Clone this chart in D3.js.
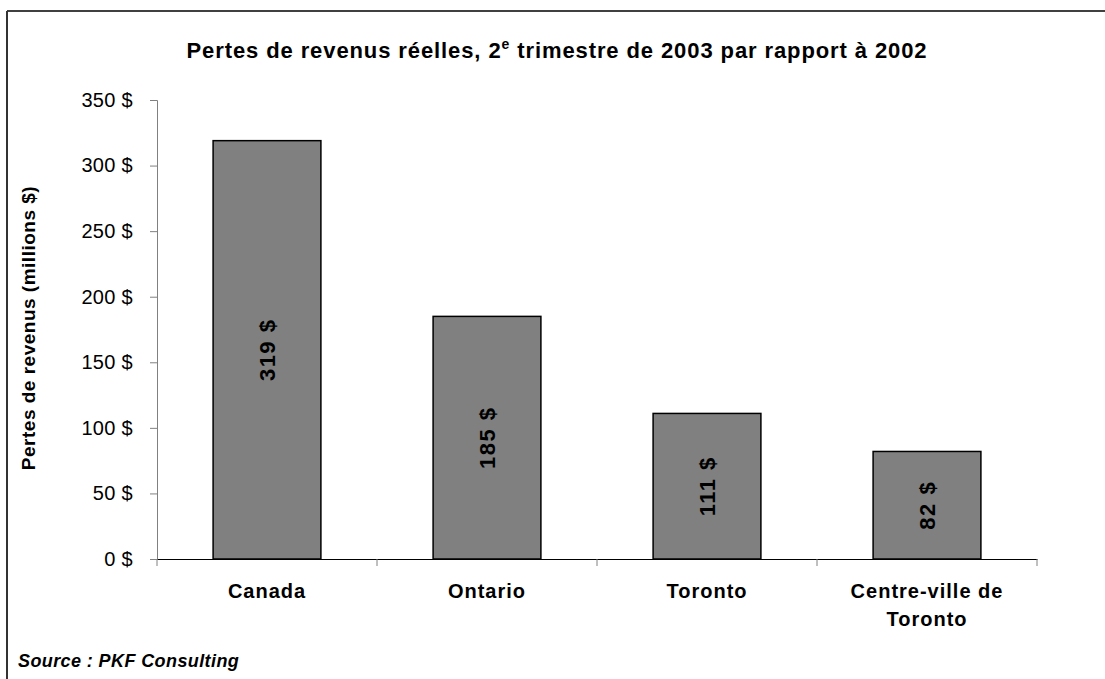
<!DOCTYPE html>
<html>
<head>
<meta charset="utf-8">
<script src="https://cdn.jsdelivr.net/npm/d3@7"></script>
<style>
  body { margin: 0; background: #fff; }
  svg text { font-family: "Liberation Sans", Arial, sans-serif; }
</style>
</head>
<body>
<svg id="chart" width="1105" height="679"></svg>
<script>
// data
let categories = [["Canada"], ["Ontario"], ["Toronto"], ["Centre-ville de", "Toronto"]];
let values = [319, 185, 111, 82];
let yTicks = [0, 50, 100, 150, 200, 250, 300, 350];

let svg = d3.select("svg#chart"),
margin = { top: 100, right: 68, bottom: 120, left: 157 },
width = svg.attr("width") - margin.left - margin.right,
height = svg.attr("height") - margin.top - margin.bottom,
g = svg.append("g").attr("transform", `translate(${margin.left},${margin.top})`);

// outer frame (only top and left edges are in the picture)
svg.append("line").attr("x1", 7).attr("x2", 1105).attr("y1", 11).attr("y2", 11)
  .attr("stroke", "#000").attr("stroke-width", 1.5);
svg.append("line").attr("x1", 7).attr("x2", 7).attr("y1", 11).attr("y2", 679)
  .attr("stroke", "#333").attr("stroke-width", 2);

var x = d3.scaleBand().domain(d3.range(values.length)).range([0, width]).paddingInner(0).paddingOuter(0);
var y = d3.scaleLinear().domain([0, 350]).range([height, 0]);

// y axis
var yAxis = d3.axisLeft(y).tickValues(yTicks).tickSize(7).tickFormat(d => d + " $");
var ya = g.append("g").call(yAxis);
ya.select(".domain").attr("stroke", "#808080");
ya.selectAll(".tick line").attr("stroke", "#808080");
ya.selectAll(".tick text").attr("font-size", 20).attr("fill", "#000").attr("x", -24)
  .attr("letter-spacing", 0.3)
  .style("font-family", "Liberation Sans, Arial, sans-serif");

// bars
var bw = x.bandwidth() * 0.49;
g.selectAll(".bar")
  .data(values)
  .enter()
  .append("rect")
  .attr("class", "bar")
  .attr("x", (d, i) => x(i) + (x.bandwidth() - bw) / 2)
  .attr("width", bw)
  .attr("y", d => y(d))
  .attr("height", d => y(0) - y(d))
  .attr("fill", "#808080")
  .attr("stroke", "#000")
  .attr("stroke-width", 1.5);

// value labels, rotated inside bars
g.selectAll(".val")
  .data(values)
  .enter()
  .append("text")
  .attr("class", "val")
  .attr("transform", (d, i) => `translate(${x(i) + x.bandwidth() / 2},${(y(d) + y(0)) / 2}) rotate(-90)`)
  .attr("text-anchor", "middle")
  .attr("dy", "0.35em")
  .attr("font-size", 22)
  .attr("font-weight", "bold")
  .attr("letter-spacing", 1.5)
  .text(d => d + " $");

// x axis
var xAxis = d3.axisBottom(x).tickSize(0).tickFormat("");
var xa = g.append("g").attr("transform", `translate(0,${height})`).call(xAxis);
xa.select(".domain").attr("stroke", "#000").attr("stroke-width", 1);
d3.range(values.length + 1).forEach(i => {
  g.append("line")
    .attr("x1", i * x.step()).attr("x2", i * x.step())
    .attr("y1", height).attr("y2", height + 7)
    .attr("stroke", "#808080");
});

// category labels
var cat = g.selectAll(".cat")
  .data(categories)
  .enter()
  .append("text")
  .attr("class", "cat")
  .attr("text-anchor", "middle")
  .attr("font-size", 20)
  .attr("font-weight", "bold")
  .attr("letter-spacing", 1)
  .attr("transform", (d, i) => `translate(${x(i) + x.bandwidth() / 2},${height + 39})`);
cat.selectAll("tspan")
  .data(d => d)
  .enter()
  .append("tspan")
  .attr("x", 0)
  .attr("dy", (d, i) => i === 0 ? 0 : 28)
  .text(d => d);

// title with superscript
var title = svg.append("text")
  .attr("x", 557).attr("y", 58)
  .attr("text-anchor", "middle")
  .attr("font-size", 22)
  .attr("font-weight", "bold")
  .attr("letter-spacing", 0.9);
title.append("tspan").text("Pertes de revenus réelles, 2");
title.append("tspan").attr("font-size", 14).attr("dy", -9).text("e");
title.append("tspan").attr("dy", 9).text(" trimestre de 2003 par rapport à 2002");

// y axis title
svg.append("text")
  .attr("transform", `translate(35,${328}) rotate(-90)`)
  .attr("text-anchor", "middle")
  .attr("font-size", 19)
  .attr("font-weight", "bold")
  .attr("letter-spacing", 0.5)
  .text("Pertes de revenus (millions $)");

// source
svg.append("text")
  .attr("x", 18).attr("y", 667)
  .attr("font-size", 18)
  .attr("font-weight", "bold")
  .attr("font-style", "italic")
  .attr("letter-spacing", 0.4)
  .text("Source : PKF Consulting");
</script>
</body>
</html>
